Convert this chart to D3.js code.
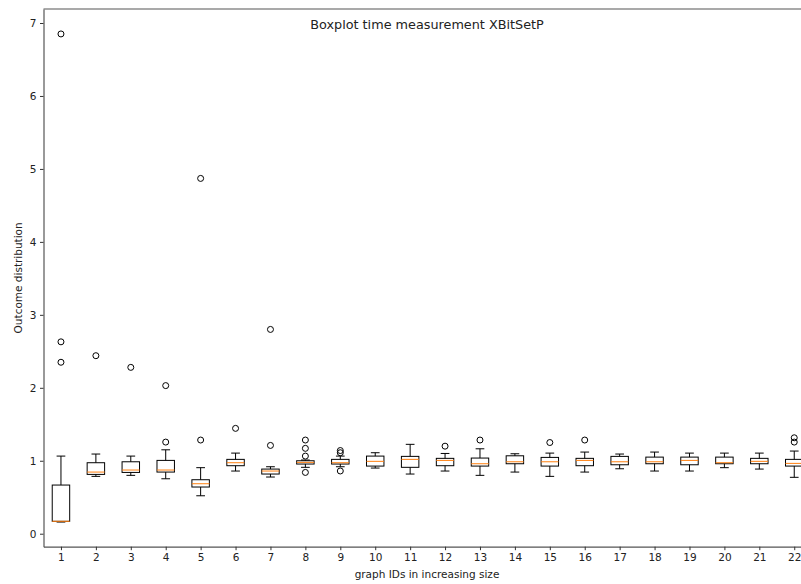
<!DOCTYPE html>
<html>
<head>
<meta charset="utf-8">
<script src="https://cdn.jsdelivr.net/npm/d3@7"></script>
<style>
    body { margin: 0; background: #fff; }
    svg { display: block; font-family: "DejaVu Sans", sans-serif; }
</style>
</head>
<body>
<svg id="chart" width="801" height="584"></svg>
<script>
// Box stats per graph ID
const graphIds = d3.range(1, 23);
const whisLo = [0.16, 0.786, 0.80, 0.753, 0.52, 0.859, 0.777, 0.91, 0.918, 0.90, 0.818,
    0.859, 0.80, 0.845, 0.786, 0.845, 0.89, 0.859, 0.859, 0.905, 0.886, 0.773];
const q1 = [0.17, 0.813, 0.84, 0.845, 0.64, 0.932, 0.818, 0.955, 0.955, 0.927, 0.91,
    0.932, 0.927, 0.959, 0.927, 0.932, 0.945, 0.959, 0.945, 0.959, 0.959, 0.927];
const medians = [0.17, 0.845, 0.873, 0.873, 0.685, 0.973, 0.859, 0.978, 0.973, 0.992, 1.019,
    1.005, 0.959, 0.986, 0.986, 1.005, 0.986, 0.986, 1.005, 0.973, 0.992, 0.964];
const q3 = [0.667, 0.973, 0.986, 1.005, 0.74, 1.019, 0.886, 1.0, 1.019, 1.064, 1.06,
    1.033, 1.037, 1.068, 1.046, 1.033, 1.06, 1.05, 1.05, 1.05, 1.033, 1.019];
const whisHi = [1.064, 1.092, 1.064, 1.15, 0.905, 1.105, 0.918, 1.01, 1.064, 1.11, 1.225,
    1.10, 1.164, 1.096, 1.105, 1.119, 1.092, 1.119, 1.105, 1.105, 1.105, 1.133];
const fliers = [[2.35, 2.63, 6.85], [2.44], [2.28], [1.256, 2.03], [1.284, 4.87], [1.444],
    [1.21, 2.80], [0.84, 1.064, 1.17, 1.284], [0.86, 1.11, 1.14], [], [],
    [1.20], [1.284], [], [1.25], [1.284], [], [], [], [], [], [1.256, 1.315]];
const yTicks = [0, 1, 2, 3, 4, 5, 6, 7];

const boxes = graphIds.map((id, i) => ({
    id: id, lo: whisLo[i], q1: q1[i], med: medians[i], q3: q3[i], hi: whisHi[i], fliers: fliers[i]
}));

const svg = d3.select("#chart");

// Axes frame (right side runs off the picture, like the reference crop)
const plotLeft = 43.5, plotTop = 9, plotBottom = 546.7;
const x = d3.scaleLinear().domain([0.5, 22.5]).range([plotLeft, 811.7]);
const y = d3.scaleLinear().domain([-0.178, 7.192]).range([plotBottom, plotTop]);
const boxW = x(1.25) - x(1); // half of box width (0.5 data units total)
const capW = boxW / 2;

const plot = svg.append("g");

// Whiskers
plot.selectAll("line.whisLow")
    .data(boxes)
    .enter()
    .append("line")
    .attr("x1", d => x(d.id)).attr("x2", d => x(d.id))
    .attr("y1", d => y(d.q1)).attr("y2", d => y(d.lo))
    .attr("stroke", "#000").attr("stroke-width", 1);
plot.selectAll("line.whisHigh")
    .data(boxes)
    .enter()
    .append("line")
    .attr("x1", d => x(d.id)).attr("x2", d => x(d.id))
    .attr("y1", d => y(d.q3)).attr("y2", d => y(d.hi))
    .attr("stroke", "#000").attr("stroke-width", 1);

// Caps
["lo", "hi"].forEach(k => {
    plot.selectAll("line.cap-" + k)
        .data(boxes)
        .enter()
        .append("line")
        .attr("x1", d => x(d.id) - capW).attr("x2", d => x(d.id) + capW)
        .attr("y1", d => y(d[k])).attr("y2", d => y(d[k]))
        .attr("stroke", "#000").attr("stroke-width", 1);
});

// Boxes
plot.selectAll("rect.box")
    .data(boxes)
    .enter()
    .append("rect")
    .attr("x", d => x(d.id) - boxW)
    .attr("width", boxW * 2)
    .attr("y", d => y(d.q3))
    .attr("height", d => y(d.q1) - y(d.q3))
    .attr("fill", "none")
    .attr("stroke", "#000")
    .attr("stroke-width", 1);

// Medians
plot.selectAll("line.median")
    .data(boxes)
    .enter()
    .append("line")
    .attr("x1", d => x(d.id) - boxW).attr("x2", d => x(d.id) + boxW)
    .attr("y1", d => y(d.med)).attr("y2", d => y(d.med))
    .attr("stroke", "#ff7f0e").attr("stroke-width", 1);

// Outliers
plot.selectAll("g.fliers")
    .data(boxes)
    .enter()
    .append("g")
    .selectAll("circle")
    .data(d => d.fliers.map(v => ({ id: d.id, v: v })))
    .enter()
    .append("circle")
    .attr("cx", d => x(d.id))
    .attr("cy", d => y(d.v))
    .attr("r", 3)
    .attr("fill", "none")
    .attr("stroke", "#000")
    .attr("stroke-width", 1);

// Axes
const yAxis = svg.append("g")
    .attr("transform", `translate(${plotLeft},0)`)
    .call(d3.axisLeft(y).tickValues(yTicks).tickSize(3.5).tickPadding(3.5).tickSizeOuter(0));
const xAxis = svg.append("g")
    .attr("transform", `translate(0,${plotBottom})`)
    .call(d3.axisBottom(x).tickValues(graphIds).tickFormat(d3.format("d"))
        .tickSize(3.5).tickPadding(3.5).tickSizeOuter(0));
[yAxis, xAxis].forEach(a => {
    a.selectAll("text").attr("font-size", "10.5px").attr("fill", "#222").attr("font-family", "DejaVu Sans");
    a.selectAll("line").attr("stroke", "#333").attr("stroke-width", 1);
    a.select(".domain").attr("stroke", "#555").attr("stroke-width", 1.2);
});

// Top spine
svg.append("line")
    .attr("x1", plotLeft).attr("x2", 801)
    .attr("y1", plotTop).attr("y2", plotTop)
    .attr("stroke", "#555").attr("stroke-width", 1.2);

// Title and axis labels
svg.append("text")
    .attr("x", 427).attr("y", 29)
    .attr("text-anchor", "middle")
    .attr("font-size", "12.8px")
    .attr("fill", "#222")
    .text("Boxplot time measurement XBitSetP");
svg.append("text")
    .attr("x", 427).attr("y", 578)
    .attr("text-anchor", "middle")
    .attr("font-size", "10.5px")
    .attr("fill", "#222")
    .text("graph IDs in increasing size");
svg.append("text")
    .attr("transform", `translate(21.5,${(plotTop + plotBottom) / 2}) rotate(-90)`)
    .attr("text-anchor", "middle")
    .attr("font-size", "10.5px")
    .attr("fill", "#222")
    .text("Outcome distribution");
</script>
</body>
</html>
